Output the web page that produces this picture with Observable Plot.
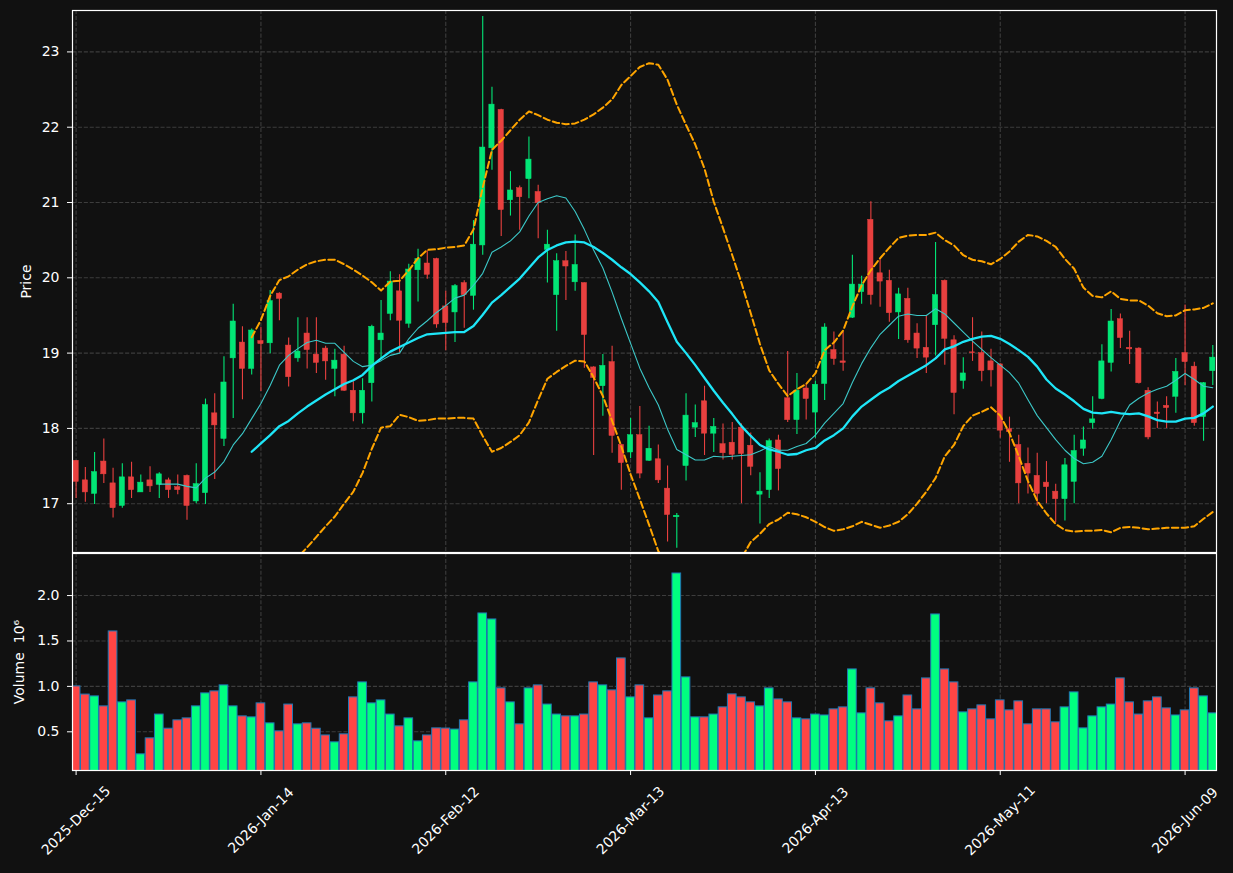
<!DOCTYPE html>
<html>
<head>
<meta charset="utf-8">
<script src="https://cdn.jsdelivr.net/npm/d3@7"></script>
<script src="https://cdn.jsdelivr.net/npm/@observablehq/plot@0.6"></script>
<style>
  html, body { margin: 0; padding: 0; background: #111111; }
  #chart { position: relative; width: 1233px; height: 873px; background: #111111; overflow: hidden; }
  #chart svg { position: absolute; left: 0; display: block; }
</style>
</head>
<body>
<div id="chart"></div>
<script>
// ---- Data ----
const tickLabels = ["2025-Dec-15", "2026-Jan-14", "2026-Feb-12", "2026-Mar-13", "2026-Apr-13", "2026-May-11", "2026-Jun-09"];
const tickBars = [0, 20, 40, 60, 80, 100, 120];

const open = [17.57,17.31,17.13,17.56,17.27,16.97,17.35,17.15,17.31,17.25,17.31,17.22,17.37,17.03,17.14,18.20,17.86,18.93,19.14,18.79,
  19.16,19.13,19.79,19.10,18.93,19.26,18.98,19.06,18.79,18.98,18.50,18.20,18.60,19.17,19.52,19.82,19.39,20.10,20.19,20.25,
  19.62,19.54,19.93,19.76,20.43,21.72,22.23,21.03,21.19,21.31,21.14,20.37,19.77,20.22,19.94,19.93,18.81,18.56,18.88,17.78,
  17.68,17.91,17.57,17.59,17.20,16.82,17.50,18.01,18.36,17.93,17.79,17.81,18.01,17.77,17.12,17.18,17.84,18.40,18.11,18.53,
  18.21,18.59,19.04,18.89,19.47,19.81,20.77,20.06,19.96,19.54,19.72,19.26,19.07,19.37,19.96,19.17,18.63,19.01,19.00,18.89,
  18.85,17.99,17.78,17.53,17.37,17.28,17.16,17.06,17.29,17.73,18.07,18.39,18.87,19.45,19.07,19.06,18.50,18.21,18.30,18.42,
  19.00,18.82,18.15,18.76];
const high = [17.57,17.48,17.68,17.86,17.47,17.53,17.55,17.38,17.49,17.41,17.34,17.38,17.38,17.53,18.39,18.46,18.95,19.65,19.35,19.32,
  19.34,19.83,19.80,19.20,19.47,19.47,19.47,19.09,19.05,19.09,18.62,18.66,19.37,19.70,20.08,20.04,20.18,20.38,20.36,20.26,
  19.82,19.91,19.96,20.76,23.47,22.53,22.24,21.41,21.22,21.87,21.23,20.63,20.32,20.35,20.57,19.93,18.82,18.98,19.09,17.79,
  18.13,18.29,18.03,17.78,17.50,16.87,18.46,18.31,18.56,18.13,18.06,18.08,18.06,17.94,17.41,17.86,17.91,19.02,18.73,18.59,
  18.63,19.39,19.28,19.28,20.30,20.02,21.01,20.24,20.10,19.86,19.86,19.39,19.49,20.47,19.97,19.23,18.94,19.47,19.28,19.05,
  18.86,18.15,17.91,17.74,17.67,17.56,17.26,17.60,17.91,18.02,18.42,19.11,19.58,19.52,19.29,19.07,18.54,18.35,18.42,18.93,
  19.64,18.88,18.61,19.10];
const low = [17.07,17.02,16.99,17.27,16.81,16.94,17.07,17.15,17.15,17.07,17.07,17.12,16.78,17.00,16.99,17.32,17.76,18.13,18.38,18.71,
  18.49,18.99,19.43,18.55,18.88,18.79,18.73,18.64,18.42,18.49,18.09,18.06,18.35,18.93,19.43,19.00,19.33,19.68,19.98,19.33,
  19.03,19.14,19.33,19.57,20.30,21.43,20.55,20.82,20.63,21.05,20.52,19.93,19.29,19.70,19.82,18.80,17.64,18.16,17.67,17.18,
  17.60,17.33,17.56,17.27,16.49,16.41,17.30,17.88,17.64,17.68,17.58,17.58,17.00,17.37,16.73,17.07,17.17,18.08,17.92,18.11,
  17.87,18.37,18.84,18.76,19.46,19.65,19.64,19.61,19.41,19.18,19.13,18.93,18.73,18.96,18.84,18.18,18.52,18.89,18.62,18.55,
  17.87,17.55,17.00,17.13,16.97,17.00,16.75,16.77,17.00,17.63,17.99,18.38,18.75,19.06,18.85,18.59,17.85,18.00,18.00,18.20,
  18.57,18.03,17.83,18.57];
const close = [17.29,17.15,17.42,17.39,16.94,17.35,17.18,17.28,17.23,17.39,17.18,17.18,16.97,17.26,18.31,18.04,18.61,19.42,18.79,19.30,
  19.12,19.69,19.72,18.68,19.02,19.04,18.87,18.89,18.90,18.50,18.20,18.50,19.35,19.26,19.95,19.43,20.11,20.25,20.04,19.38,
  19.40,19.89,19.77,20.44,21.73,22.30,20.90,21.16,21.07,21.57,20.99,20.44,20.22,20.15,20.17,19.24,18.67,18.83,17.90,17.54,
  17.91,17.40,17.73,17.31,16.85,16.84,18.17,18.07,17.93,18.02,17.67,17.65,17.66,17.49,17.16,17.83,17.46,18.11,18.50,18.39,
  18.58,19.34,18.92,18.87,19.91,19.91,19.77,19.95,19.53,19.78,19.17,19.06,18.94,19.77,19.19,18.47,18.73,19.00,18.76,18.77,
  17.97,17.95,17.27,17.40,17.13,17.22,17.06,17.51,17.70,17.84,18.12,18.89,19.42,19.20,19.05,18.60,17.88,18.19,18.27,18.75,
  18.88,18.07,18.60,18.94];
// volume in millions (×10^6)
const volume = [1.00,0.91,0.89,0.78,1.605,0.824,0.846,0.252,0.428,0.69,0.534,0.626,0.648,0.78,0.923,0.945,1.011,0.78,0.67,0.659,
  0.813,0.593,0.505,0.80,0.582,0.593,0.534,0.46,0.384,0.472,0.879,1.044,0.813,0.846,0.69,0.56,0.648,0.395,0.46,0.538,
  0.536,0.525,0.626,1.044,1.803,1.737,0.978,0.824,0.582,0.978,1.011,0.80,0.69,0.67,0.67,0.69,1.044,1.011,0.956,1.308,
  0.879,1.011,0.648,0.90,0.945,2.243,1.099,0.659,0.659,0.69,0.769,0.912,0.879,0.824,0.78,0.978,0.857,0.824,0.648,0.637,
  0.69,0.68,0.747,0.769,1.187,0.703,0.978,0.813,0.615,0.67,0.90,0.747,1.088,1.792,1.187,1.044,0.714,0.747,0.791,0.637,
  0.846,0.736,0.835,0.582,0.747,0.747,0.604,0.769,0.934,0.538,0.67,0.769,0.80,1.088,0.824,0.69,0.835,0.879,0.758,0.68,
  0.736,0.978,0.89,0.703];
// 10-bar moving average (thin cyan line)
const ma10 = Array(9).fill(null).concat([17.26,17.26,17.26,17.23,17.21,17.34,17.42,17.56,17.78,17.93,18.13,
  18.33,18.57,18.84,18.97,19.06,19.14,19.17,19.13,19.13,19.01,18.89,18.82,18.84,18.90,18.97,19.00,19.19,19.33,19.43,19.54,
  19.63,19.73,19.77,19.90,20.06,20.34,20.41,20.49,20.61,20.82,21.00,21.05,21.09,21.06,20.88,20.64,20.37,20.13,19.81,19.46,
  19.13,18.80,18.54,18.31,17.99,17.72,17.65,17.58,17.58,17.63,17.62,17.63,17.64,17.65,17.70,17.76,17.71,17.71,17.76,17.80,
  17.91,18.07,18.20,18.33,18.61,18.86,19.07,19.25,19.37,19.49,19.52,19.50,19.50,19.59,19.52,19.40,19.28,19.16,19.05,18.94,
  18.84,18.74,18.60,18.38,18.17,18.01,17.85,17.71,17.60,17.53,17.55,17.63,17.85,18.10,18.31,18.40,18.47,18.52,18.56,18.64,
  18.73,18.65,18.56,18.54]);
// 20-bar moving average (thick cyan line)
const ma20 = Array(19).fill(null).concat([17.69,
  17.80,17.91,18.03,18.10,18.20,18.29,18.37,18.45,18.52,18.59,18.64,18.71,18.83,18.93,19.02,19.08,19.14,19.20,19.25,19.26,
  19.27,19.28,19.28,19.36,19.51,19.67,19.77,19.88,19.99,20.13,20.27,20.37,20.43,20.47,20.48,20.47,20.41,20.33,20.24,20.14,
  20.05,19.94,19.82,19.68,19.41,19.15,19.00,18.84,18.67,18.50,18.34,18.19,18.03,17.90,17.78,17.72,17.69,17.65,17.66,17.71,
  17.74,17.84,17.91,18.00,18.16,18.29,18.38,18.47,18.54,18.63,18.70,18.77,18.84,18.93,19.05,19.09,19.15,19.19,19.22,19.23,
  19.19,19.12,19.04,18.95,18.82,18.65,18.53,18.45,18.36,18.26,18.21,18.20,18.22,18.20,18.19,18.20,18.16,18.11,18.09,18.09,
  18.13,18.14,18.20,18.29]);
// upper and lower bands (orange dashed)
const bandUpper = Array(19).fill(null).concat([19.21,
  19.44,19.76,19.97,20.02,20.11,20.18,20.22,20.24,20.24,20.18,20.11,20.03,19.94,19.83,19.95,19.96,20.10,20.26,20.37,20.38,
  20.40,20.41,20.43,20.64,21.20,21.70,21.82,21.96,22.10,22.21,22.16,22.10,22.06,22.04,22.05,22.10,22.17,22.26,22.37,22.56,
  22.68,22.80,22.85,22.83,22.63,22.30,22.03,21.77,21.45,21.01,20.66,20.30,19.93,19.53,19.12,18.77,18.59,18.43,18.52,18.59,
  18.73,19.04,19.14,19.30,19.62,19.90,20.10,20.26,20.40,20.53,20.56,20.57,20.57,20.60,20.50,20.43,20.30,20.24,20.22,20.18,
  20.25,20.35,20.48,20.57,20.55,20.49,20.41,20.25,20.12,19.87,19.76,19.74,19.82,19.72,19.70,19.70,19.63,19.53,19.49,19.50,
  19.57,19.58,19.60,19.66]);
const bandLower = Array(19).fill(null).concat([16.17,
  16.16,16.06,16.09,16.18,16.29,16.42,16.56,16.70,16.83,17.00,17.16,17.41,17.73,18.01,18.03,18.18,18.15,18.10,18.11,18.13,
  18.13,18.14,18.14,18.13,17.90,17.69,17.74,17.82,17.91,18.08,18.38,18.66,18.75,18.83,18.90,18.89,18.68,18.43,18.10,17.76,
  17.39,17.06,16.72,16.37,16.19,16.00,15.97,15.91,15.89,15.99,16.02,16.08,16.28,16.49,16.60,16.73,16.79,16.88,16.86,16.82,
  16.76,16.69,16.64,16.66,16.70,16.76,16.72,16.68,16.71,16.76,16.86,17.00,17.16,17.34,17.63,17.78,18.03,18.17,18.22,18.28,
  18.17,17.94,17.63,17.30,17.04,16.87,16.73,16.65,16.63,16.64,16.64,16.65,16.62,16.68,16.69,16.68,16.66,16.67,16.68,16.68,
  16.68,16.70,16.80,16.89]);
const priceTicks = [17, 18, 19, 20, 21, 22, 23];
const volumeTicks = [0.5, 1.0, 1.5, 2.0];

// ---- Table built from the arrays ----
const rows = open.map((o, i) => ({
  i, open: o, high: high[i], low: low[i], close: close[i], volume: volume[i],
  up: close[i] >= o, ma10: ma10[i], ma20: ma20[i], upper: bandUpper[i], lower: bandLower[i]
}));

const FONT = "'DejaVu Sans', sans-serif";
const FS = 14;
const upCandle = "#02e676", downCandle = "#e8403f";
const upVol = "#00ff80", downVol = "#ff4545";
const gridColor = "#3d3d3d";
const xDomain = [-0.39, 123.4];
const W = 1233;

const gridOpts = {stroke: gridColor, strokeOpacity: 1, strokeWidth: 1.1, strokeDasharray: "4.1,1.8"};

const pricePlot = Plot.plot({
  width: W, height: 552,
  marginTop: 10, marginBottom: 0, marginLeft: 72, marginRight: 17,
  style: {background: "#111111", color: "#ffffff", fontFamily: FONT, fontSize: FS + "px", overflow: "visible"},
  x: {type: "linear", domain: xDomain, axis: null},
  y: {type: "linear", domain: [16.352, 23.55], axis: null},
  marks: [
    Plot.gridX(tickBars, gridOpts),
    Plot.gridY(priceTicks, gridOpts),
    Plot.ruleX(rows, {x: "i", y1: "low", y2: "high", stroke: d => d.up ? upCandle : downCandle, strokeWidth: 1.1}),
    Plot.rect(rows, {
      x1: d => d.i - 0.285, x2: d => d.i + 0.285, y1: "open", y2: "close",
      fill: d => d.up ? upCandle : downCandle, stroke: d => d.up ? upCandle : downCandle, strokeWidth: 0.5
    }),
    Plot.line(rows, {x: "i", y: "upper", stroke: "#ffa500", strokeWidth: 2, strokeDasharray: "6.5,3.3", clip: true}),
    Plot.line(rows, {x: "i", y: "lower", stroke: "#ffa500", strokeWidth: 2, strokeDasharray: "6.5,3.3", clip: true}),
    Plot.line(rows, {x: "i", y: "ma10", stroke: "#3cc8c8", strokeWidth: 1.1, clip: true}),
    Plot.line(rows, {x: "i", y: "ma20", stroke: "#1ee6f8", strokeWidth: 2.3, clip: true}),
    Plot.axisY(priceTicks, {tickSize: 5, tickPadding: 8, tickFormat: d3.format("d"), stroke: "#ffffff", fill: "#ffffff", label: null, fontSize: FS}),
    Plot.frame({stroke: "#ffffff", strokeWidth: 1.2}),
    Plot.text(["Price"], {text: d => d, frameAnchor: "left", dx: -46, rotate: -90, textAnchor: "middle", lineAnchor: "middle", fill: "#ffffff", fontSize: FS})
  ]
});

const volPlot = Plot.plot({
  width: W, height: 321,
  marginTop: 1, marginBottom: 103, marginLeft: 72, marginRight: 17,
  style: {background: "transparent", color: "#ffffff", fontFamily: FONT, fontSize: FS + "px", overflow: "visible"},
  x: {type: "linear", domain: xDomain, axis: null},
  y: {type: "linear", domain: [0.074, 2.463], axis: null},
  marks: [
    Plot.gridX(tickBars, gridOpts),
    Plot.gridY(volumeTicks, gridOpts),
    Plot.rect(rows, {
      x1: d => d.i - 0.47, x2: d => d.i + 0.47, y1: 0, y2: "volume",
      fill: d => d.up ? upVol : downVol, stroke: "#1f77b4", strokeWidth: 1, clip: true
    }),
    Plot.axisY(volumeTicks, {tickSize: 5, tickPadding: 8, tickFormat: d3.format(".1f"), stroke: "#ffffff", fill: "#ffffff", label: null, fontSize: FS}),
    Plot.axisX(tickBars, {tickSize: 5, stroke: "#ffffff", fill: "none", label: null}),
    Plot.text(tickBars, {
      x: d => d, text: (d, k) => tickLabels[k], frameAnchor: "bottom", dy: 50,
      rotate: -45, textAnchor: "middle", lineAnchor: "middle", fill: "#ffffff", fontSize: FS
    }),
    Plot.frame({stroke: "#ffffff", strokeWidth: 1.2}),
    Plot.text(["Volume  10\u2076"], {text: d => d, frameAnchor: "left", dx: -53, rotate: -90, textAnchor: "middle", lineAnchor: "middle", fill: "#ffffff", fontSize: FS})
  ]
});

const chart = document.getElementById("chart");
pricePlot.style.top = "0px";
volPlot.style.top = "552px";
chart.appendChild(pricePlot);
chart.appendChild(volPlot);
</script>
</body>
</html>
